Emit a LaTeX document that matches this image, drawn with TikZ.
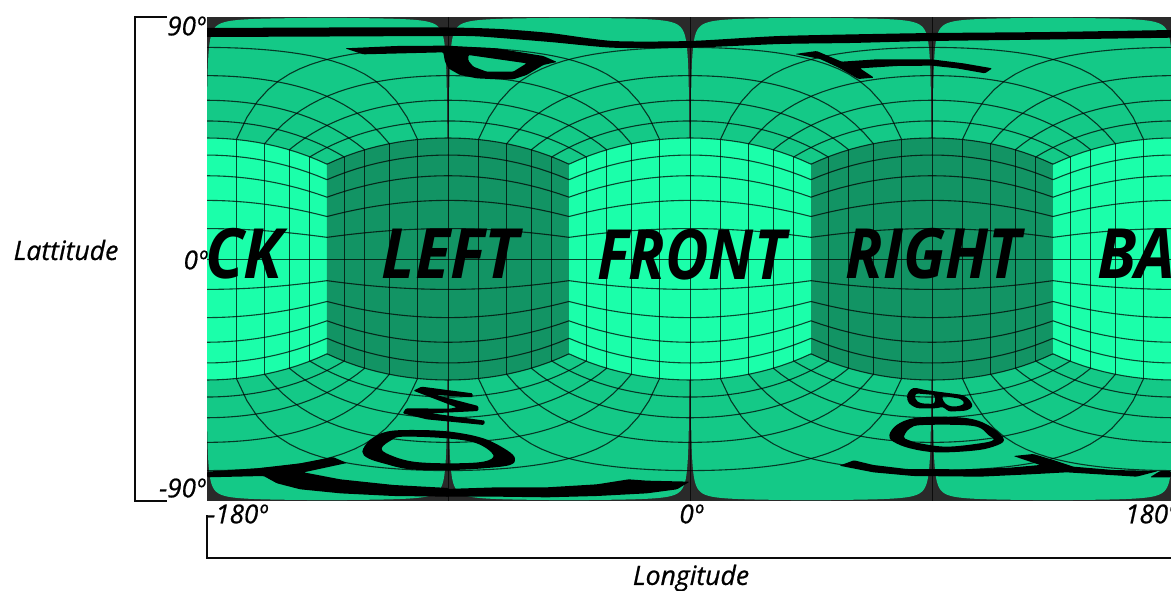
\documentclass[tikz,border=0pt]{standalone}
\usepackage{fontspec}
\setmainfont{Open Sans}
\newfontfamily\labf{Open Sans}[ItalicFeatures={FakeBold=0.7}]
\definecolor{lightface}{HTML}{1BFFAA}
\definecolor{darkface}{HTML}{129464}
\definecolor{capface}{HTML}{14C987}
\definecolor{bggrey}{HTML}{2A2A2A}
\definecolor{inkdark}{HTML}{0A0A0A}
\tikzset{
  sphere/.style={shift={(690,259)},x=2.689pt,y=2.689pt},
  gridline/.style={draw=black,draw opacity=.72,line width=1.1pt},
  gridstraight/.style={draw=black,draw opacity=.72,line width=.95pt},
  bracket/.style={draw=inkdark,line width=2pt},
  warped/.style={fill=black,even odd rule,rounded corners=1.2pt},
  bigword/.style={font=\fontsize{66}{66}\selectfont\bfseries\itshape,inner sep=0pt,text=black},
  axislabel/.style={font=\labf\fontsize{26.6}{27}\selectfont\itshape,inner sep=0pt,text=black},
  deglabel/.style={font=\labf\fontsize{26}{26}\selectfont\itshape,inner sep=0pt,text=black},
}
\begin{document}
\begin{tikzpicture}[x=1pt,y=-1pt]
\useasboundingbox (0,0) rectangle (1171,591);
\begin{scope}
\clip (207,17) rectangle (1171,501);
\fill[bggrey] (207,17) rectangle (1176,501);
\begin{scope}[sphere]
 \foreach \s in {1,-1}{
  \foreach \L in {-135,-45,45,135}{
   \fill[capface] plot[domain=5.52:0,samples=40] ({\L+45-atan(exp(\x))},{\s*atan(250/veclen(1,exp(\x)))})
     -- plot[domain=0:5.52,samples=40] ({\L-45+atan(exp(\x))},{\s*atan(250/veclen(1,exp(\x)))})
     -- ({\L+44.7},0) -- ({\L-44.7},0) -- cycle;
  }
 }
 \foreach \L/\c in {-180/lightface,-90/darkface,0/lightface,90/darkface,180/lightface}{
  \fill[\c] plot[domain=-45:45,samples=31] ({\x+\L},{atan(cos(\x))})
     -- plot[domain=45:-45,samples=31] ({\x+\L},{-atan(cos(\x))}) -- cycle;
  \foreach \u in {-.8,-.6,-.4,-.2,0,.2,.4,.6,.8,1}{
   \pgfmathsetmacro\lo{atan(\u)+\L}
   \pgfmathsetmacro\la{atan(cos(atan(\u)))}
   \draw[gridstraight] (\lo,-\la) -- (\lo,\la);
  }
 }
 \foreach \L in {-180,-90,0,90,180}{
  \draw[gridstraight] ({\L-45},0) -- ({\L+45},0);
  \foreach \v in {-1,-.8,-.6,-.4,-.2,.2,.4,.6,.8,1}{
   \draw[gridline] plot[domain=-45:45,samples=25] ({\x+\L},{atan(\v*cos(\x))});
  }
  \foreach \s in {1,-1}{
   \draw[gridstraight] (\L,{\s*45}) -- (\L,{\s*90});
   \foreach \c/\e in {.2/78.69,.4/68.2,.6/59.04,.8/51.34}{
    \draw[gridline] plot[domain=-\e:\e,samples=41] ({\x+\L},{\s*atan(cos(\x)/\c)});
   }
  }
 }
\end{scope}
\end{scope}
% distorted lettering of the top and bottom faces
\fill[black] plot[smooth,tension=.4] coordinates {(207,28) (330,27.5) (448,27.5) (500,29) (550,33) (613,41) (690,41) (780,36) (900,33.5) (932,33) (1050,32) (1171,30)}
  -- plot[smooth,tension=.4] coordinates {(1171,37.7) (1050,39.5) (932,41) (850,43) (780,44) (690,47.7) (613,47.7) (550,42) (480,36.5) (448,36) (330,36.5) (207,37)} -- cycle;
\begin{scope}[shift={(130,0)},scale=.3333]
 \fill[warped] (645,145) -- (800,138) -- (950,137) -- (1100,145) -- (1240,168) -- (1281,186) -- (1240,195) -- (1190,225) -- (1150,238) -- (1100,238) -- (1040,235) -- (990,225) -- (955,205) -- (945,185) -- (940,157) -- (700,163) -- cycle
   (1015,165) -- (1190,190) -- (1150,215) -- (1070,215) -- (1030,200) -- (1015,182) -- cycle;
\end{scope}
\begin{scope}[shift={(750,0)},scale=.3333]
 \fill[warped] (135,162) -- (200,153) -- (275,185) -- (380,178) -- (545,178) -- (640,190) -- (727,205) -- (705,220) -- (620,205) -- (545,197) -- (440,198) -- (330,205) -- (372,233) -- (325,237) -- (270,205) -- (210,177) -- cycle;
\end{scope}
\begin{scope}[shift={(350,380)},scale=.3333]
 \fill[warped] (215,20) -- (368,40) -- (368,52) -- (258,45) -- (385,78) -- (385,93) -- (245,100) -- (405,122) -- (402,135) -- (230,118) -- (158,100) -- (168,85) -- (300,86) -- (320,82) -- (190,32) -- cycle;
 \fill[black,even odd rule] plot[smooth cycle,tension=.6] coordinates {(37,215) (60,180) (110,155) (190,150) (300,155) (400,175) (470,210) (495,235) (480,255) (400,265) (300,270) (180,268) (100,250) (55,235)}
   plot[smooth cycle,tension=.6] coordinates {(95,205) (125,180) (160,170) (290,175) (380,190) (430,225) (400,245) (300,250) (190,245) (120,225)};
\end{scope}
\begin{scope}[shift={(207,440)},scale=.3333]
 \fill[warped] (0,95) -- (150,85) -- (280,70) -- (378,51) -- (420,69) -- (290,97) -- (400,118) -- (560,135) -- (725,144) -- (725,170) -- (560,168) -- (400,160) -- (280,148) -- (210,130) -- (170,108) -- (0,112) -- cycle;
\end{scope}
\begin{scope}[shift={(447,450)},scale=.3333]
 \fill[warped] (-5,117) -- (150,112) -- (300,112) -- (450,103) -- (545,88) -- (600,92) -- (728,95) -- (690,118) -- (600,130) -- (450,138) -- (300,142) -- (150,140) -- (-5,140) -- cycle;
\end{scope}
\begin{scope}[shift={(880,380)},scale=.3333]
 \fill[black,even odd rule,rounded corners=3pt] (85,35) -- (100,22) -- (135,30) -- (250,45) -- (270,60) -- (280,80) -- (260,92) -- (205,95) -- (190,80) -- (170,85) -- (110,85) -- (85,70) -- (80,50) -- cycle
   (105,40) -- (165,45) -- (165,72) -- (120,70) -- (105,58) -- cycle
   (185,47) -- (245,57) -- (255,72) -- (230,80) -- (205,78) -- (190,65) -- cycle;
 \fill[black,even odd rule] plot[smooth cycle,tension=.6] coordinates {(28,165) (50,135) (100,115) (190,110) (280,118) (340,145) (372,180) (340,200) (280,212) (170,217) (90,205) (40,185)}
   plot[smooth cycle,tension=.6] coordinates {(72,170) (90,145) (130,135) (280,138) (325,165) (340,180) (300,190) (200,200) (120,190) (85,180)};
\end{scope}
\begin{scope}[shift={(830,445)},scale=.3333]
 \fill[warped] (28,62) -- (72,46) -- (130,60) -- (230,72) -- (400,73) -- (540,68) -- (630,60) -- (550,33) -- (610,27) -- (670,45) -- (730,65) -- (850,75) -- (985,78) -- (920,95) -- (710,82) -- (600,88) -- (450,95) -- (250,93) -- (130,82) -- cycle;
 \fill[warped] (960,97) -- (990,78) -- (1023,78) -- (1023,97) -- cycle;
\end{scope}
% face names
\begin{scope}
\clip (207,17) rectangle (1171,501);
\node[bigword,anchor=center] (front) at (691.5,254.5) {\scalebox{.905}[1.05]{FRONT}};
\node[bigword,anchor=center] (left) at (450.5,254) {\scalebox{.98}[1.05]{LEFT}};
\node[bigword,anchor=center] (right) at (933.5,254) {\scalebox{.93}[1.05]{RIGHT}};
\node[bigword,anchor=west] (ck) at (205,254) {\scalebox{.96}[1.05]{CK}};
\node[bigword,anchor=west] (ba) at (1097,254) {\scalebox{.96}[1.05]{BA}};
\end{scope}
% axis brackets
\coordinate (lt) at (167,17);
\coordinate (lb) at (167,501);
\draw[bracket] (lt) -- (135,17) -- (135,501) -- (lb);
\coordinate (bl) at (207,515);
\coordinate (br) at (1171,557.5);
\draw[bracket] (bl) -- (207,557.5) -- (br);
% labels
\node[deglabel,anchor=east] (n90) at (205,26) {90º};
\node[deglabel,anchor=east] (s90) at (205,488) {-90º};
\node[deglabel,anchor=east] (eq) at (207,260) {0º};
\node[deglabel,anchor=west] (w180) at (207,514) {-180º};
\node[deglabel,anchor=center] (mid) at (691,514) {0º};
\node[deglabel,anchor=west] (e180) at (1125,514) {180º};
\node[axislabel] (lat) at (66,250) {Lattitude};
\node[axislabel] (lon) at (691,578) {Longitude};
\end{tikzpicture}
\end{document}
